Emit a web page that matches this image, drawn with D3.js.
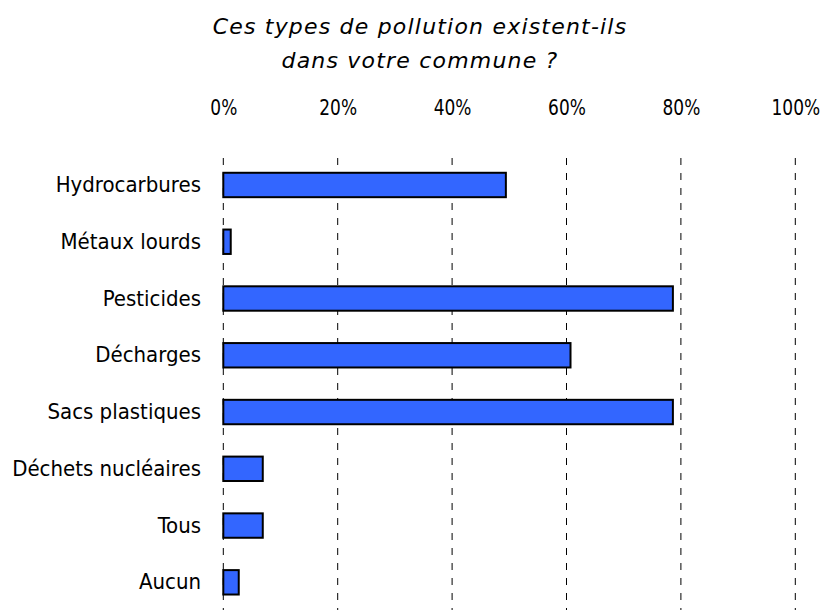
<!DOCTYPE html>
<html>
<head>
<meta charset="utf-8">
<script src="https://cdn.jsdelivr.net/npm/d3@7"></script>
<style>
  html, body { margin: 0; padding: 0; background: #fff; }
  svg { display: block; }
  .cat { font-family: "DejaVu Sans Condensed", "DejaVu Sans", sans-serif; font-stretch: condensed; font-size: 22px; fill: #000; }
  .tick text { font-family: "DejaVu Sans Condensed", "DejaVu Sans", sans-serif; font-stretch: condensed; font-size: 21px; fill: #000; }
  .title { font-family: "DejaVu Sans", sans-serif; font-style: italic; font-size: 22px; letter-spacing: 1.2px; fill: #000; }
</style>
</head>
<body>
<svg id="chart" width="824" height="610"></svg>
<script>
// Survey answers: share of respondents reporting each pollution type (%)
const categories = [
  "Hydrocarbures",
  "Métaux lourds",
  "Pesticides",
  "Décharges",
  "Sacs plastiques",
  "Déchets nucléaires",
  "Tous",
  "Aucun"
];
const values = [49.4, 1.3, 78.6, 60.7, 78.6, 6.9, 6.9, 2.7];
const tickValues = [0, 20, 40, 60, 80, 100];
const titleLines = ["Ces types de pollution existent-ils", "dans votre commune ?"];

const svg = d3.select("#chart");

const x = d3.scaleLinear().domain([0, 100]).range([223.3, 795.3]);
const y = d3.scaleBand()
  .domain(categories)
  .range([156.6, 610.7])
  .paddingInner(0.57)
  .paddingOuter(0.285);

// Title
svg.append("g").selectAll("text")
  .data(titleLines)
  .join("text")
  .attr("class", "title")
  .attr("x", 420)
  .attr("y", (d, i) => 34 + i * 34)
  .attr("text-anchor", "middle")
  .text(d => d);

// Dashed vertical gridlines
svg.append("g").selectAll("line")
  .data(tickValues)
  .join("line")
  .attr("x1", d => x(d)).attr("x2", d => x(d))
  .attr("y1", 158).attr("y2", 610)
  .attr("stroke", "#000")
  .attr("stroke-width", 1)
  .attr("stroke-dasharray", "7,8");

// Top percentage axis
const axis = svg.append("g")
  .attr("transform", "translate(0,115)")
  .call(d3.axisTop(x).tickValues(tickValues).tickFormat(d => d + "%").tickSize(0).tickPadding(0));
axis.select(".domain").remove();
axis.selectAll(".tick text")
  .attr("y", 0).attr("dy", 0)
  .attr("transform", "scale(0.9,1)");

// Bars
svg.append("g").selectAll("rect")
  .data(categories.map((c, i) => ({ c, v: values[i] })))
  .join("rect")
  .attr("x", x(0))
  .attr("y", d => y(d.c))
  .attr("width", d => x(d.v) - x(0))
  .attr("height", y.bandwidth())
  .attr("fill", "#3366ff")
  .attr("stroke", "#000")
  .attr("stroke-width", 2);

// Category labels
svg.append("g").selectAll("text")
  .data(categories)
  .join("text")
  .attr("class", "cat")
  .attr("x", 201)
  .attr("y", d => y(d) + y.bandwidth() / 2 + 7)
  .attr("text-anchor", "end")
  .text(d => d);
</script>
</body>
</html>
